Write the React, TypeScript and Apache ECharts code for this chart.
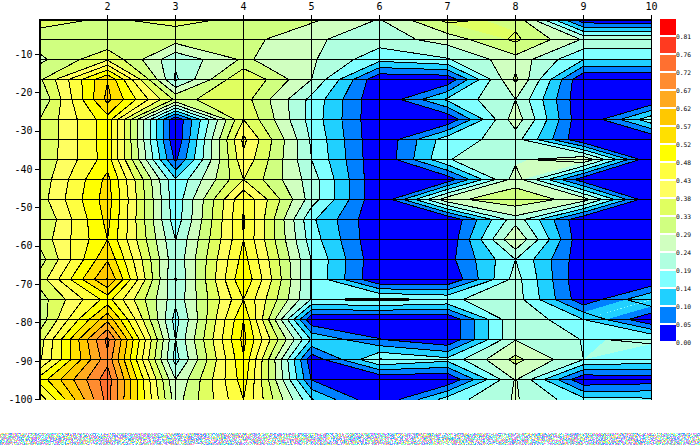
import React, { useEffect, useRef } from "react";
import * as echarts from "echarts";

// Column positions (x axis) and depths (y axis) of the sampled grid
const columns = [1, 2, 3, 4, 5, 6, 7, 8, 9, 10];
const depths = [-1, -6.21, -11.42, -16.63, -21.84, -27.05, -32.26, -37.47, -42.68, -47.89, -53.11, -58.32, -63.53, -68.74, -73.95, -79.16, -84.37, -89.58, -94.79, -100];
const xTicks = [2, 3, 4, 5, 6, 7, 8, 9, 10];
const yTicks = [-10, -20, -30, -40, -50, -60, -70, -80, -90, -100];

// Values per depth row, read in legend steps (1 step = one colour band, about 0.0477)
const row00 = [7.3, 6.9, 7.3, 6.8, 6.2, 4.95, 7.33, 6.7, 0.2, 0];
const row01 = [6.6, 6.15, 6.44, 6.4, 5.15, 4.5, 5.43, 7.2, 4.9, 4.9];
const row02 = [5.75, 7.85, 4.22, 6.15, 5.15, 3.3, 3.9, 5.64, 3.0, 3.0];
const row03 = [6.8, 11.95, 3.82, 8.02, 5.0, 0.1, 0.2, 6.2, 0, 0];
const row04 = [6.0, 12.3, 6.8, 7.45, 3.7, 0.02, 3.2, 5.0, 0, 0];
const row05 = [7.0, 10.6, 0.1, 8.0, 3.6, 0.02, 0.1, 5.6, 0, 3.7];
const row06 = [7.0, 10.6, 0.1, 9.25, 3.85, 0.02, 3.6, 4.4, 0, 0];
const row07 = [7.1, 10.5, 0.8, 8.75, 4.0, 0.05, 3.95, 4.8, 5.85, 0];
const row08 = [7.3, 11.3, 3.1, 8.0, 4.5, 0, 0.35, 5.5, 0.3, 0];
const row09 = [7.5, 11.5, 3.3, 9.9, 4.5, 0, 5.7, 6.7, 5.5, 0];
const row10 = [6.9, 11.3, 3.4, 10.1, 3.2, 0, 0, 4.6, 0, 0];
const row11 = [7.3, 11.0, 3.98, 10.0, 3.5, 0, 0.1, 6.0, 0, 0];
const row12 = [6.5, 11.9, 4.2, 10.4, 3.95, 0.1, 0.6, 4.0, 0.2, 0];
const row13 = [7.4, 13.1, 3.92, 10.9, 3.9, 0, 0, 4.4, 0, 0];
const row14 = [6.5, 10.4, 4.25, 10.0, 3.92, 4.3, 3.85, 4.5, 0.25, 3.05];
const row15 = [6.3, 12.75, 3.6, 11.0, 0.15, 0, 0.02, 4.95, 3.0, 0];
const row16 = [7.5, 15.3, 3.98, 11.3, 2.9, 1.05, 0.05, 4.95, 3.95, 4.1];
const row17 = [7.8, 14.7, 3.6, 10.9, 0.3, 4.1, 3.3, 6.3, 4.0, 3.65];
const row18 = [10.4, 15.6, 5.0, 10.5, 0.95, 0, 0, 5.1, 0.1, 0.4];
const row19 = [8.3, 15.4, 5.5, 10.0, 3.1, 0, 3.5, 5.1, 3.3, 3.2];
const rows = [row00, row01, row02, row03, row04, row05, row06, row07, row08, row09, row10, row11, row12, row13, row14, row15, row16, row17, row18, row19];

// Legend: bands from lowest to highest, and boundary labels from the lowest
const bandColors = ["#0000ff", "#0080ff", "#20d0ff", "#80ffff", "#b0ffe0", "#d0ffc0", "#d0ff80", "#e0ff60", "#ffff60", "#ffff40", "#ffff00", "#ffe000", "#ffc800", "#ffaa20", "#ff8c30", "#ff7030", "#ff3a20", "#ff0000"];
const legendLabels = ["0.00", "0.05", "0.10", "0.14", "0.19", "0.24", "0.29", "0.33", "0.38", "0.43", "0.48", "0.52", "0.57", "0.62", "0.67", "0.72", "0.76", "0.81"];

const noisePalette = ["#66ffff", "#ff99ff", "#ffff66", "#ffffff", "#9999ff", "#99ff99", "#33aaff", "#cc77ff", "#ff9999", "#ffffff", "#aaffee"];

type V = { x: number; y: number; v: number };

function clip(poly: V[], level: number, above: boolean): V[] {
  const out: V[] = [];
  const inside = (p: V) => (above ? p.v >= level : p.v <= level);
  for (let i = 0; i < poly.length; i++) {
    const a = poly[i];
    const b = poly[(i + 1) % poly.length];
    const ia = inside(a);
    const ib = inside(b);
    if (ia) out.push(a);
    if (ia !== ib) {
      const t = (level - a.v) / (b.v - a.v);
      out.push({ x: a.x + (b.x - a.x) * t, y: a.y + (b.y - a.y) * t, v: level });
    }
  }
  return out;
}

function contourSegments(c: V[], level: number): [number, number][][] {
  const pts: [number, number][] = [];
  for (let i = 0; i < 4; i++) {
    const a = c[i];
    const b = c[(i + 1) % 4];
    if (a.v < level !== b.v < level) {
      const t = (level - a.v) / (b.v - a.v);
      pts.push([a.x + (b.x - a.x) * t, a.y + (b.y - a.y) * t]);
    }
  }
  if (pts.length === 2) return [[pts[0], pts[1]]];
  if (pts.length === 4) {
    const mean = (c[0].v + c[1].v + c[2].v + c[3].v) / 4;
    if (c[0].v < level === mean < level) return [[pts[0], pts[1]], [pts[2], pts[3]]];
    return [[pts[3], pts[0]], [pts[1], pts[2]]];
  }
  return [];
}

function makeNoise(): string {
  const canvas = document.createElement("canvas");
  canvas.width = 700;
  canvas.height = 12;
  const ctx = canvas.getContext("2d")!;
  let s = 12345;
  for (let y = 0; y < 12; y++) {
    for (let x = 0; x < 700; x++) {
      s = (s * 1103515245 + 12345) & 0x7fffffff;
      ctx.fillStyle = noisePalette[(s >> 12) % noisePalette.length];
      ctx.fillRect(x, y, 1, 1);
    }
  }
  return canvas.toDataURL();
}

export default function App() {
  const ref = useRef<HTMLDivElement>(null);
  useEffect(() => {
    document.body.style.margin = "0";
    const chart = echarts.init(ref.current!, undefined, { renderer: "svg" });

    const cells: number[][] = [];
    for (let r = 0; r < depths.length - 1; r++) {
      for (let c = 0; c < columns.length - 1; c++) {
        cells.push([columns[c], depths[r], columns[c + 1], depths[r + 1], rows[r][c], rows[r][c + 1], rows[r + 1][c + 1], rows[r + 1][c]]);
      }
    }

    const renderCell = (_: any, api: any) => {
      const x0 = api.value(0), y0 = api.value(1), x1 = api.value(2), y1 = api.value(3);
      const p = (x: number, y: number, v: number): V => {
        const q = api.coord([x, y]);
        return { x: q[0], y: q[1], v };
      };
      const quad: V[] = [p(x0, y0, api.value(4)), p(x1, y0, api.value(5)), p(x1, y1, api.value(6)), p(x0, y1, api.value(7))];
      const children: any[] = [];
      const vs = quad.map((q) => q.v);
      const lo = Math.max(0, Math.floor(Math.min(...vs)));
      const hi = Math.min(bandColors.length - 1, Math.floor(Math.max(...vs)));
      for (let b = lo; b <= hi; b++) {
        let poly = quad;
        if (b > 0) poly = clip(poly, b, true);
        if (poly.length > 2 && b < bandColors.length - 1) poly = clip(poly, b + 1, false);
        if (poly.length > 2) {
          children.push({ type: "polygon", shape: { points: poly.map((q) => [q.x, q.y]) }, style: { fill: bandColors[b] }, silent: true });
        }
      }
      for (let l = 1; l < bandColors.length; l++) {
        for (const seg of contourSegments(quad, l)) {
          children.push({
            type: "line",
            shape: { x1: seg[0][0], y1: seg[0][1], x2: seg[1][0], y2: seg[1][1] },
            style: { stroke: "#000", lineWidth: 1 },
            silent: true,
          });
        }
      }
      return { type: "group", children };
    };

    const renderRow = (_: any, api: any) => {
      const a = api.coord([columns[0], api.value(0)]);
      const b = api.coord([columns[columns.length - 1], api.value(0)]);
      return { type: "line", shape: { x1: a[0], y1: a[1], x2: b[0], y2: b[1] }, style: { stroke: "#000", lineWidth: 1 }, silent: true };
    };
    const renderCol = (_: any, api: any) => {
      const a = api.coord([api.value(0), depths[0]]);
      const b = api.coord([api.value(0), depths[depths.length - 1]]);
      return { type: "line", shape: { x1: a[0], y1: a[1], x2: b[0], y2: b[1] }, style: { stroke: "#000", lineWidth: 1 }, silent: true };
    };

    const swatches: any[] = [];
    const n = bandColors.length;
    bandColors.forEach((color, i) => {
      swatches.push({ type: "rect", silent: true, shape: { x: 660, y: 19 + 18 * (n - 1 - i), width: 16, height: 16 }, style: { fill: color } });
    });
    legendLabels.forEach((label, i) => {
      swatches.push({
        type: "text",
        silent: true,
        style: { x: 676, y: 342 - 18 * i, text: label, fill: "#000", font: '6.3px "DejaVu Sans Mono"', textVerticalAlign: "middle" },
      });
    });
    swatches.push({ type: "image", silent: true, style: { image: makeNoise(), x: 0, y: 433, width: 700, height: 12 } });

    chart.setOption({
      animation: false,
      backgroundColor: "#fff",
      grid: { left: 39.5, top: 19.5, width: 612, height: 380, containLabel: false },
      xAxis: {
        type: "value",
        position: "top",
        min: 1,
        max: 10,
        interval: 1,
        z: 10,
        axisLine: { show: true, lineStyle: { color: "#000", width: 2 } },
        axisTick: { show: true, length: 5, customValues: xTicks, lineStyle: { color: "#000" } },
        axisLabel: { color: "#000", fontFamily: "DejaVu Sans Mono", fontSize: 10, margin: 8, customValues: xTicks, formatter: (v: number) => String(v) },
        splitLine: { show: false },
      },
      yAxis: {
        type: "value",
        min: -100,
        max: -1,
        interval: 10,
        z: 10,
        axisLine: { show: true, onZero: false, lineStyle: { color: "#000", width: 2 } },
        axisTick: { show: true, length: 5, customValues: yTicks, lineStyle: { color: "#000" } },
        axisLabel: { color: "#000", fontFamily: "DejaVu Sans Mono", fontSize: 10, margin: 7, customValues: yTicks, verticalAlign: "middle", padding: [0, 0, 5, 0], formatter: (v: number) => String(v) },
        splitLine: { show: false },
      },
      graphic: swatches,
      series: [
        { type: "custom", coordinateSystem: "cartesian2d", clip: false, data: cells, encode: { x: [0, 2], y: [1, 3] }, renderItem: renderCell, z: 2 },
        { type: "custom", coordinateSystem: "cartesian2d", clip: false, data: depths.slice(0, -1).map((d) => [d]), encode: { y: 0 }, renderItem: renderRow, z: 3 },
        { type: "custom", coordinateSystem: "cartesian2d", clip: false, data: columns.map((c) => [c]), encode: { x: 0 }, renderItem: renderCol, z: 3 },
      ],
    });
    return () => chart.dispose();
  }, []);
  return (
    <>
      <style>{`svg path, svg polygon, svg polyline, svg line, svg rect { shape-rendering: crispEdges; }`}</style>
      <div ref={ref} style={{ width: 700, height: 445 }} />
    </>
  );
}
